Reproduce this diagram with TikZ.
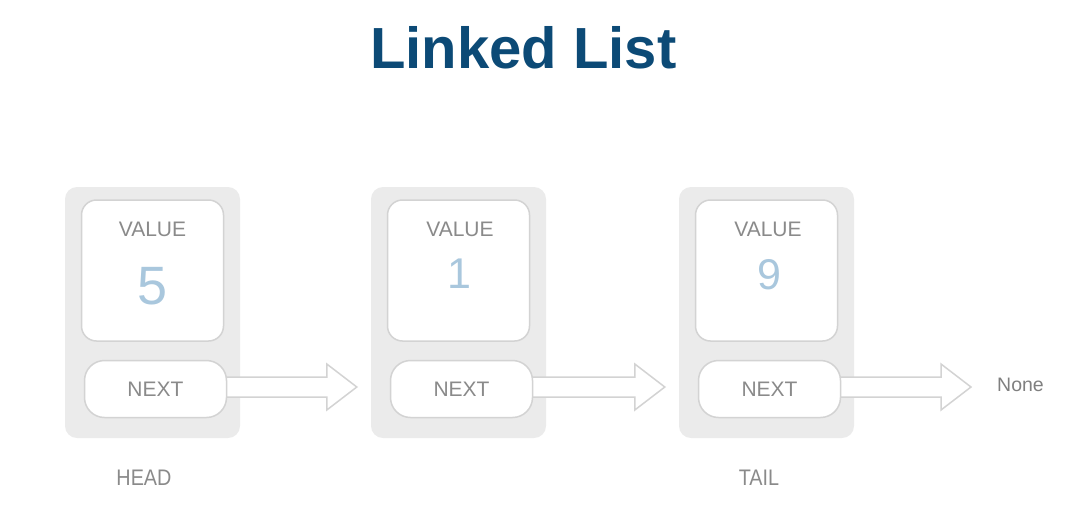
\documentclass[tikz,border=0pt]{standalone}
\usepackage{fontspec}
\setmainfont{Liberation Sans}
\newfontfamily\narrowfont[FakeStretch=0.88]{Liberation Sans}
\usetikzlibrary{calc}
\pgfdeclarelayer{backlayer}
\pgfdeclarelayer{midlayer}
\pgfsetlayers{backlayer,midlayer,main}
\definecolor{titleblue}{HTML}{0C4A76}
\definecolor{boxgray}{HTML}{EBEBEB}
\definecolor{edgegray}{HTML}{D3D3D3}
\definecolor{textgray}{HTML}{8A8A8A}
\definecolor{numblue}{HTML}{A9C7DD}
\tikzset{
  outerbox/.style={fill=boxgray, draw=none, rounded corners=12pt, minimum width=175pt, minimum height=251pt, inner sep=0pt},
  valuebox/.style={fill=white, draw=edgegray, line width=1.5pt, rounded corners=15pt, minimum width=142pt, minimum height=141pt, inner sep=0pt},
  nextbox/.style={fill=white, draw=edgegray, line width=1.5pt, rounded corners=20pt, minimum width=142pt, minimum height=57pt, inner sep=0pt, text=textgray, font=\fontsize{21}{21}\selectfont},
  label/.style={text=textgray, font=\fontsize{21}{21}\selectfont, inner sep=0pt},
  bignum/.style={text=numblue, font=\fontsize{54}{54}\selectfont, inner sep=0pt},
  smallnum/.style={text=numblue, font=\fontsize{43}{43}\selectfont, inner sep=0pt},
  sidelabel/.style={text=textgray, font=\narrowfont\fontsize{22.5}{22.5}\selectfont, inner sep=0pt},
  blockarrow/.style={fill=white, draw=edgegray, line width=1.5pt, line join=miter},
}
\begin{document}
\begin{tikzpicture}[x=1pt, y=-1pt]
\useasboundingbox (0,0) rectangle (1067,515);
\node[font=\fontsize{58}{58}\selectfont\bfseries, text=titleblue, inner sep=0pt] (title) at (523.5,48) {Linked List};
\begin{pgfonlayer}{backlayer}
% outer boxes
\node[outerbox] (n1) at (152.5,312.5) {};
\node[outerbox] (n2) at (458.5,312.5) {};
\node[outerbox] (n3) at (766.5,312.5) {};
% value boxes
\node[valuebox] (v1) at (152.5,270.5) {};
\node[valuebox] (v2) at (458.5,270.5) {};
\node[valuebox] (v3) at (766.5,270.5) {};
\end{pgfonlayer}
% next boxes
\node[nextbox] (x1) at (155.5,389) {NEXT};
\node[nextbox] (x2) at (461.5,389) {NEXT};
\node[nextbox] (x3) at (769.5,389) {NEXT};
% None label
\node[text=textgray!92!black, font=\fontsize{19.5}{19.5}\selectfont, inner sep=0pt] (none) at (1020.5,385) {None};
% arrows between nodes
\begin{pgfonlayer}{midlayer}
\coordinate (t1) at ([xshift=-14pt,yshift=2pt]n2.west |- x1.east);
\coordinate (t2) at ([xshift=-14pt,yshift=2pt]n3.west |- x2.east);
\coordinate (t3) at ([xshift=-26pt,yshift=2pt]none.west |- x3.east);
\foreach \s/\t in {x1/t1, x2/t2, x3/t3}{
  \draw[blockarrow] ($(\s.east)+(-10,-12)$) -- ($(\t)+(-30,-10)$) -- ($(\t)+(-30,-23)$) -- (\t) -- ($(\t)+(-30,23)$) -- ($(\t)+(-30,10)$) -- ($(\s.east)+(-10,8)$);
}
\end{pgfonlayer}
% value labels
\node[label] (l1) at (152.5,229) {VALUE};
\node[label] (l2) at (460,229) {VALUE};
\node[label] (l3) at (768,229) {VALUE};
\node[bignum] (d1) at (152.5,286) {5};
\node[smallnum] (d2) at (459,274) {1};
\node[smallnum] (d3) at (769,275) {9};
% head / tail
\node[sidelabel] (head) at (144,478) {HEAD};
\node[sidelabel] (tail) at (759,478) {TAIL};
\end{tikzpicture}
\end{document}
